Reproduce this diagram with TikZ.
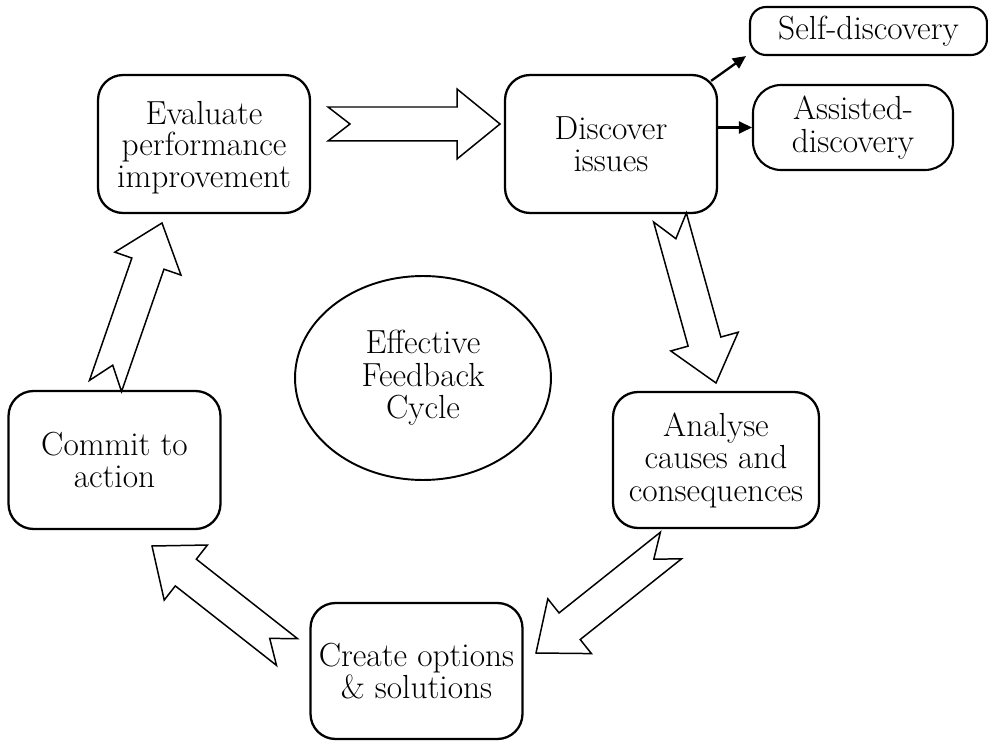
\documentclass[tikz,border=0pt]{standalone}
\usetikzlibrary{calc, shapes.geometric, arrows.meta}

\tikzset{
  stage/.style = {draw, line width = 1.3pt, rounded corners = 0.5cm,
    align = center, inner sep = 0pt, minimum width = 4.24cm,
    minimum height = 2.76cm, font = \fontsize{19}{18.5}\selectfont},
  way/.style = {draw, line width = 1.2pt, align = center, inner sep = 0pt,
    font = \fontsize{19}{18.5}\selectfont},
  fatarrow/.style = {draw, line width = 0.85pt, fill = white, line join = miter},
  pointer/.style = {line width = 1.3pt, -{Triangle[length = 0.26cm, width = 0.24cm]}}
}

\begin{document}
\begin{tikzpicture}[x = 0.02cm, y = -0.02cm]
    \useasboundingbox (0,0) rectangle (988,743);
    % the five steps of the cycle
    \node [stage, font = \fontsize{19}{18}\selectfont] (eval) at (204,144)
      {\rule{0pt}{17pt}Evaluate\\performance\\improvement};
    \node [stage] (disc) at (611,144) {Discover\\issues};
    \node [stage, minimum width = 4.12cm, minimum height = 2.72cm] (anal) at (716,460)
      {Analyse\\causes and\\consequences};
    \node [stage, minimum height = 2.72cm] (crea) at (416.5,671)
      {Create options\\\& solutions};
    \node [stage] (comm) at (114.5,460) {Commit to\\action};
    \node [ellipse, draw, line width = 1.1pt, minimum width = 5.12cm,
      minimum height = 4.08cm, inner sep = 0pt, align = center,
      font = \fontsize{19}{18.5}\selectfont] (cycl) at (423,378)
      {Effective\\Feedback\\Cycle};
    % two ways to discover
    \node [way, rounded corners = 0.32cm, minimum width = 4.74cm,
      minimum height = 0.96cm] (self) at (868.5,31) {Self-discovery};
    \node [way, rounded corners = 0.56cm, minimum width = 4cm,
      minimum height = 1.7cm] (asst) at (853,127.5) {Assisted-\\discovery};
    \draw [pointer] ($(disc.north east)+(-7,7)$) -- ($(self.south west)+(-3,0)$);
    \draw [pointer] (disc.east |- asst.west) -- (asst.west);
    % tails and tips of the big arrows
    \coordinate (t1) at (328,124);   \coordinate (h1) at (500,124);
    \coordinate (t2) at (670,217.5); \coordinate (h2) at (716,383);
    \coordinate (t3) at (671,545.5); \coordinate (h3) at (536,653);
    \coordinate (t4) at (287,652);   \coordinate (h4) at (152,546);
    \coordinate (t5) at (105.5,386); \coordinate (h5) at (162,223);
    \foreach \from/\to in {t1/h1, t2/h2, t3/h3, t4/h4, t5/h5}
      \draw [fatarrow] ($(\from)!0.34cm!90:(\to)$)
        -- ($(\from)!0.44cm!(\to)$)
        -- ($(\from)!0.34cm!-90:(\to)$)
        -- ($(\to)!0.86cm!(\from)!0.34cm!-90:(\to)$)
        -- ($(\to)!0.86cm!(\from)!0.7cm!-90:(\to)$)
        -- (\to)
        -- ($(\to)!0.86cm!(\from)!0.7cm!90:(\to)$)
        -- ($(\to)!0.86cm!(\from)!0.34cm!90:(\to)$)
        -- cycle;
  \end{tikzpicture}
\end{document}
